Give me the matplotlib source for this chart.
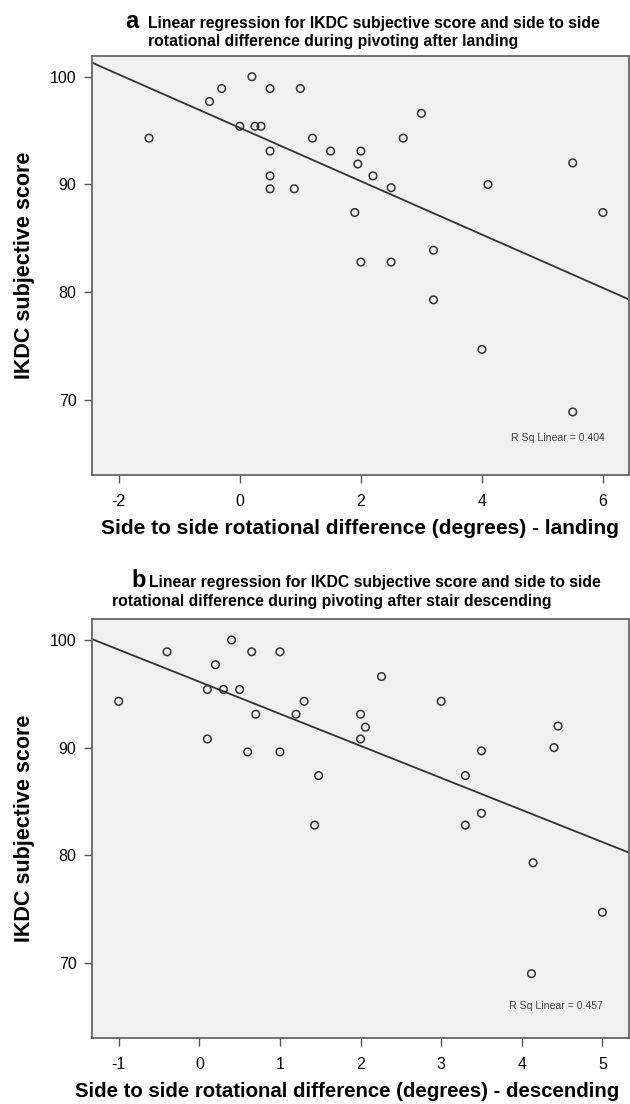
import numpy as np
import matplotlib
matplotlib.use("Agg")
import matplotlib.pyplot as plt

plt.rcParams['font.family'] = ['Liberation Sans', 'DejaVu Sans']
plt.rcParams['axes.unicode_minus'] = False

# panel a: landing
land_x = [-1.5, -0.5, -0.3, 0.2, 0.5, 1.0, 0.0, 0.25, 0.35, 1.2, 0.5, 1.5, 0.5, 0.5, 0.9,
          3.0, 2.7, 2.0, 1.95, 2.2, 2.5, 1.9, 3.2, 2.0, 2.5, 3.2, 4.0, 5.5, 4.1, 5.5, 6.0]
land_y = [94.3, 97.7, 98.9, 100.0, 98.9, 98.9, 95.4, 95.4, 95.4, 94.3, 93.1, 93.1, 90.8, 89.6, 89.6,
          96.6, 94.3, 93.1, 91.9, 90.8, 89.7, 87.4, 83.9, 82.8, 82.8, 79.3, 74.7, 68.9, 90.0, 92.0, 87.4]
land_r2 = 0.404

# panel b: stair descending
desc_x = [-1.0, -0.4, 0.4, 0.65, 1.0, 0.2, 0.1, 0.3, 0.5, 1.3, 0.7, 1.2, 0.1, 0.6, 1.0, 1.48, 1.43,
          2.26, 3.0, 2.0, 2.06, 2.0, 3.5, 4.4, 4.45, 3.3, 3.5, 3.3, 4.14, 5.0, 4.12]
desc_y = [94.3, 98.9, 100.0, 98.9, 98.9, 97.7, 95.4, 95.4, 95.4, 94.3, 93.1, 93.1, 90.8, 89.6, 89.6, 87.4, 82.8,
          96.6, 94.3, 93.1, 91.9, 90.8, 89.7, 90.0, 92.0, 87.4, 83.9, 82.8, 79.3, 74.7, 69.0]
desc_r2 = 0.457

y_ticks = [70, 80, 90, 100]

W, H = 630, 1104
fig = plt.figure(figsize=(W / 100, H / 100), dpi=100)


def px(x, y):
    return x / W, 1 - y / H


def panel(rect, xs, ys, xlim, xticks, r2, xlabel, r2_pos, label_x, label_size):
    ax = fig.add_axes(rect)
    ax.set_facecolor('#f0f0f0')
    ax.scatter(xs, ys, s=30, facecolors='none', edgecolors='#333333', linewidths=1.1, zorder=3)
    k, b = np.polyfit(xs, ys, 1)
    lx = np.array(xlim)
    ax.plot(lx, k * lx + b, color='#333333', lw=1.3, zorder=2)
    ax.set_xlim(xlim)
    ax.set_ylim(63.05, 101.92)
    ax.set_xticks(xticks)
    ax.set_yticks(y_ticks)
    ax.tick_params(axis='x', labelsize=11.5, length=6, width=1, color='#555555', pad=8)
    ax.tick_params(axis='y', labelsize=11.5, length=6, width=1, color='#555555', pad=5)
    for s in ax.spines.values():
        s.set_color('#666666')
        s.set_linewidth(1.3)
    ax.set_xlabel(xlabel, fontsize=label_size, fontweight='bold', labelpad=7)
    ax.xaxis.label.set_x(label_x)
    ax.set_ylabel('IKDC subjective score', fontsize=15.5, fontweight='bold', labelpad=11)
    ax.text(r2_pos[0], r2_pos[1], 'R Sq Linear = %.3f' % r2, fontsize=7.6, color='#444444',
            transform=ax.transAxes, ha='right', va='center')
    return ax


# top panel
panel([91.7 / W, 1 - 475 / H, 537.3 / W, 419 / H], land_x, land_y, (-2.447, 6.43), [-2, 0, 2, 4, 6],
      land_r2, 'Side to side rotational difference (degrees) - landing', (0.955, 0.089), 0.5, 15)

# bottom panel
panel([91.7 / W, 1 - 1037.7 / H, 537.3 / W, 418.4 / H], desc_x, desc_y, (-1.335, 5.33), [-1, 0, 1, 2, 3, 4, 5],
      desc_r2, 'Side to side rotational difference (degrees) - descending', (0.951, 0.075),
      (347 - 91.7) / 537.3, 14.7)

# titles
fig.text(*px(125, 28), 'a', fontsize=17, fontweight='bold', va='baseline')
fig.text(*px(148, 28), 'Linear regression for IKDC subjective score and side to side',
         fontsize=11.3, fontweight='bold', va='baseline')
fig.text(*px(148, 46), 'rotational difference during pivoting after landing',
         fontsize=11.3, fontweight='bold', va='baseline')

fig.text(*px(131, 587), 'b', fontsize=17, fontweight='bold', va='baseline')
fig.text(*px(149, 587), 'Linear regression for IKDC subjective score and side to side',
         fontsize=11.3, fontweight='bold', va='baseline')
fig.text(*px(112, 606), 'rotational difference during pivoting after stair descending',
         fontsize=11.3, fontweight='bold', va='baseline')

fig.savefig('out.png', dpi=100)
